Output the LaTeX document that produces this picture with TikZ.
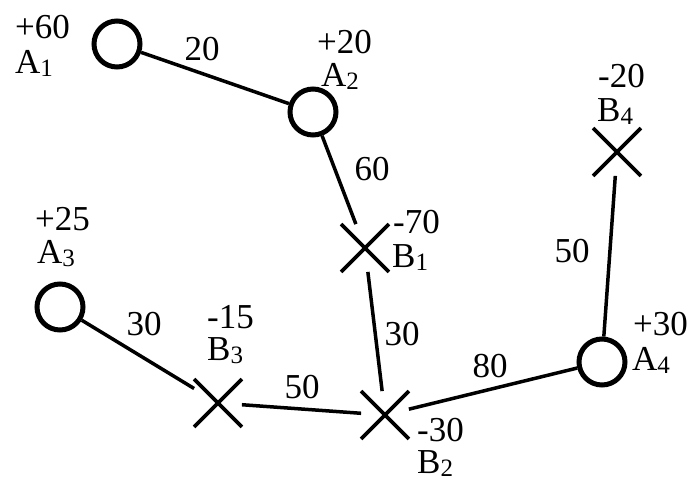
\documentclass[tikz,border=0pt]{standalone}
\usepackage{fontspec}
\setmainfont{Liberation Serif}
\usetikzlibrary{shapes.misc}

\newcommand{\idx}[1]{\raisebox{-3pt}{\fontsize{25}{25}\selectfont #1}}

\tikzset{
  source/.style={circle, draw, line width=5pt, minimum size=46pt, inner sep=0pt},
  sink/.style={cross out, draw, line width=3.8pt, minimum size=44pt, inner sep=0pt},
  link/.style={line width=3.5pt},
  txt/.style={anchor=base west, inner sep=0pt, font=\fontsize{35}{36}\selectfont},
  wt/.style={anchor=base, inner sep=0pt, font=\fontsize{35}{36}\selectfont}
}

\begin{document}
\begin{tikzpicture}[x=1pt, y=-1pt]
    \useasboundingbox (0,0) rectangle (694,480);

    % Supply points
    \node[source] (A1) at (117,44) {};
    \node[source] (A2) at (313,112) {};
    \node[source] (A3) at (60,307) {};
    \node[source] (A4) at (602,362) {};

    % Demand points
    \node[sink] (B1) at (365,248) {};
    \node[sink] (B2) at (385,415) {};
    \node[sink] (B3) at (218,403) {};
    \node[sink] (B4) at (617,152) {};

    % Links
    \draw[link] (A1) -- (A2);
    \draw[link] (A2) -- (B1);
    \draw[link] (B1) -- (B2);
    \draw[link] (A3) -- (B3);
    \draw[link] (B3) -- (B2);
    \draw[link] (B2) -- (A4);
    \draw[link] (A4) -- (B4);

    % Quantities and names
    \node[txt] (A1val) at (15,38) {+60};
    \node[txt] (A1lab) at (15,73) {A\idx{1}};
    \node[txt] (A2val) at (317,53) {+20};
    \node[txt] (A2lab) at (321,86) {A\idx{2}};
    \node[txt] (A3val) at (35,230) {+25};
    \node[txt] (A3lab) at (37,263) {A\idx{3}};
    \node[txt] (A4val) at (633,335) {+30};
    \node[txt] (A4lab) at (632,370) {A\idx{4}};
    \node[txt] (B1val) at (393,233) {-70};
    \node[txt] (B1lab) at (392,267) {B\idx{1}};
    \node[txt] (B2val) at (417,441) {-30};
    \node[txt] (B2lab) at (417,473) {B\idx{2}};
    \node[txt] (B3val) at (207,328) {-15};
    \node[txt] (B3lab) at (207,360) {B\idx{3}};
    \node[txt] (B4val) at (598,87) {-20};
    \node[txt] (B4lab) at (597,121) {B\idx{4}};

    % Distances
    \node[wt] (dA1A2) at (202,60) {20};
    \node[wt] (dA2B1) at (372,180) {60};
    \node[wt] (dB1B2) at (402,345) {30};
    \node[wt] (dA3B3) at (144,335) {30};
    \node[wt] (dB3B2) at (302,398) {50};
    \node[wt] (dB2A4) at (490,377) {80};
    \node[wt] (dA4B4) at (572,262) {50};
\end{tikzpicture}
\end{document}
